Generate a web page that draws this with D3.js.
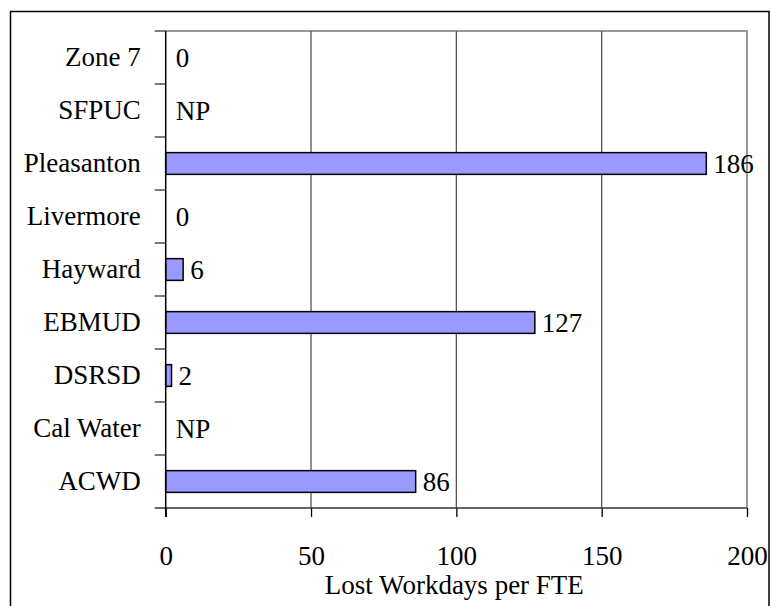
<!DOCTYPE html>
<html lang="en">
  <head>
    <meta charset="utf-8">
    <title>Lost Workdays per FTE</title>
    <script src="https://d3js.org/d3.v7.js"></script>
    <style>
      body { margin: 0; background: #fff; }
    </style>
  </head>
  <body>
    <script type="text/javascript">
      // data, top to bottom as drawn
      var categories = ["Zone 7", "SFPUC", "Pleasanton", "Livermore", "Hayward", "EBMUD", "DSRSD", "Cal Water", "ACWD"];
      var values = [0, null, 186, 0, 6, 127, 2, null, 86];   // null = not provided
      var tickValues = [0, 50, 100, 150, 200];
      var axisTitle = "Lost Workdays per FTE";

      var w = 772, h = 606;
      var plot = {left: 165.7, right: 747, top: 31, bottom: 508};
      var FONT = "Liberation Serif";

      var data = categories.map(function (c, i) { return {name: c, value: values[i]}; });

      var svg = d3.select("body").append("svg")
          .attr("width", w)
          .attr("height", h);

      // outer frame
      svg.append("rect")
          .attr("x", 10.5).attr("y", 11.5)
          .attr("width", 758.5).attr("height", 620)
          .attr("fill", "none").attr("stroke", "#000").attr("stroke-width", 1.5);

      var xScale = d3.scaleLinear().domain([0, 200]).range([plot.left, plot.right]);
      var yScale = d3.scaleBand().domain(categories).range([plot.top, plot.bottom]);
      var barH = yScale.bandwidth() * 0.41;

      // plot area border (top + right, grey)
      svg.append("path")
          .attr("d", `M${plot.left},${plot.top}H${plot.right}V${plot.bottom}`)
          .attr("fill", "none").attr("stroke", "#999").attr("stroke-width", 2);

      // grid lines
      svg.append("g").selectAll("line")
          .data(tickValues.filter(function (t) { return t > 0 && t < 200; }))
          .enter().append("line")
          .attr("x1", d => xScale(d)).attr("x2", d => xScale(d))
          .attr("y1", plot.top).attr("y2", plot.bottom)
          .attr("stroke", "#555").attr("stroke-width", 1.3);

      // bars
      svg.append("g").selectAll("rect")
          .data(data.filter(d => d.value))
          .enter().append("rect")
          .attr("x", xScale(0))
          .attr("y", d => yScale(d.name) + (yScale.bandwidth() - barH) / 2)
          .attr("width", d => xScale(d.value) - xScale(0))
          .attr("height", barH)
          .attr("fill", "#9999ff")
          .attr("stroke", "#000")
          .attr("stroke-width", 1.5);

      // value labels
      svg.append("g").selectAll("text")
          .data(data)
          .enter().append("text")
          .attr("x", d => xScale(d.value || 0) + (d.value ? 7 : 10))
          .attr("y", d => yScale(d.name) + yScale.bandwidth() / 2)
          .attr("dy", "0.35em")
          .text(d => d.value === null ? "NP" : d.value);

      // x axis
      var xAxis = d3.axisBottom(xScale)
          .tickValues(tickValues)
          .tickSize(9)
          .tickSizeOuter(0)
          .tickPadding(29);

      var gx = svg.append("g")
          .attr("transform", `translate(0, ${plot.bottom})`)
          .call(xAxis);
      gx.select(".domain").remove();
      gx.selectAll(".tick line").attr("stroke", "#000").attr("stroke-width", 1.3);

      svg.append("line")
          .attr("x1", plot.left - 11).attr("x2", plot.right)
          .attr("y1", plot.bottom).attr("y2", plot.bottom)
          .attr("stroke", "#333").attr("stroke-width", 1.5);

      // y axis
      svg.append("line")
          .attr("x1", plot.left).attr("x2", plot.left)
          .attr("y1", plot.top).attr("y2", plot.bottom + 9)
          .attr("stroke", "#000").attr("stroke-width", 1.5);

      svg.append("g").selectAll("line")
          .data(categories)
          .enter().append("line")
          .attr("x1", plot.left - 11).attr("x2", plot.left)
          .attr("y1", d => yScale(d)).attr("y2", d => yScale(d))
          .attr("stroke", "#333").attr("stroke-width", 1.3);

      var yAxis = d3.axisLeft(yScale).tickSize(0).tickPadding(25);
      var gy = svg.append("g")
          .attr("transform", `translate(${plot.left}, 0)`)
          .call(yAxis);
      gy.select(".domain").remove();

      // axis title
      svg.append("text")
          .attr("x", (plot.left + plot.right) / 2 - 2)
          .attr("y", 594)
          .attr("text-anchor", "middle")
          .text(axisTitle);

      // common text style (overrides d3 axis defaults)
      svg.selectAll("g").attr("font-family", null).attr("font-size", null);
      svg.selectAll("text")
          .attr("font-family", FONT)
          .attr("font-size", 27)
          .style("font-family", FONT)
          .style("font-size", "27px")
          .attr("fill", "#000");
    </script>
  </body>
</html>
